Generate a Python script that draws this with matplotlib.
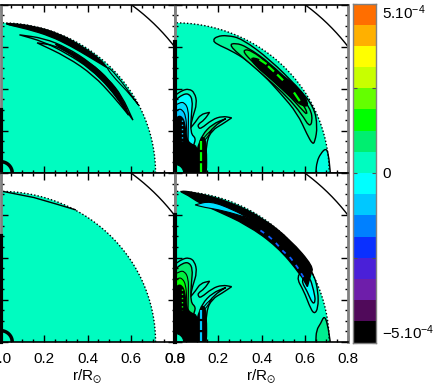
import numpy as np
import matplotlib
matplotlib.use('Agg')
import matplotlib.pyplot as plt
from matplotlib.path import Path
from matplotlib.patches import PathPatch

plt.rcParams['font.family'] = ['Liberation Sans', 'DejaVu Sans']
plt.rcParams['mathtext.default'] = 'regular'

# Colour levels of the bar, bottom to top
levels = [-5e-4 + i * 6.25e-5 for i in range(17)]
level_colors = ['#000000', '#500a5a', '#6e1eaa', '#4a20d8', '#0a30ff', '#0080ff',
                '#00c8ff', '#00ffff', '#00fcc0', '#00ee70', '#00ff00', '#64ff00',
                '#c8ff00', '#ffff00', '#ffb000', '#ff6e00']
bar_ticks = [-5e-4, -2.5e-4, 0, 2.5e-4, 5e-4]
bar_labels = [r'$-$5.10$^{-4}$', '', '0', '', '5.10$^{-4}$']

disc_color = '#00fcc0'
r_disc = 0.713
r_core = 0.054
r_surface = 1.0

tick_major = [0.0, 0.2, 0.4, 0.6, 0.8]
tick_labels = ['0.0', '0.2', '0.4', '0.6', '0.8']

# Top left panel
tl_band = [(.030, .712), (.153, .698), (.275, .660), (.382, .597), (.459, .540), (.490, .500), (.490, .500),
           (.413, .548), (.321, .604), (.229, .650), (.122, .684), (.030, .705)]
tl_sliver = [(.482, .512), (.528, .474), (.635, .322), (.635, .322), (.581, .390), (.512, .464)]
tl_top = [(.015, .712), (.055, .704), (.095, .698), (.095, .698), (.050, .700)]
tl_long = [(.087, .656), (.087, .656), (.199, .640), (.306, .595), (.413, .524), (.497, .445), (.558, .366),
           (.609, .251), (.609, .251), (.566, .314), (.505, .401), (.413, .496), (.306, .567), (.199, .623)]
tl_mass = [(.240, .618), (.275, .604), (.413, .524), (.505, .437), (.569, .335), (.589, .275), (.589, .275),
           (.535, .360), (.459, .455), (.352, .545)]
tl_lower = [(.168, .618), (.168, .618), (.245, .607), (.306, .575), (.459, .482), (.535, .370), (.589, .275),
            (.589, .275), (.520, .362), (.428, .464), (.306, .551)]

# Bottom left panel
bl_edge = [(.015, .712), (.153, .684), (.260, .652), (.344, .626)]

# Upper lobe, top right panel
tr_lobe1 = [(.174, .630), (.194, .649), (.240, .654), (.310, .638), (.442, .536), (.566, .409),
            (.643, .314), (.659, .220), (.647, .148), (.636, .137), (.612, .180), (.566, .283),
            (.488, .378), (.411, .464), (.333, .536), (.256, .583), (.194, .611)]
tr_lobe2 = [(.248, .607), (.279, .618), (.333, .599), (.442, .520), (.550, .409), (.628, .306),
            (.636, .243), (.620, .220), (.589, .275), (.519, .362), (.426, .449), (.333, .532)]
tr_lobe3 = [(.310, .583), (.349, .586), (.442, .512), (.550, .393), (.605, .306), (.612, .275),
            (.589, .299), (.519, .378), (.426, .464), (.349, .536)]
tr_band = [(.345, .555), (.426, .524), (.504, .457), (.574, .405), (.620, .327), (.597, .312),
           (.535, .360), (.442, .449), (.372, .508)]
tr_dashes = [(.395, .536), (.419, .520), (.434, .504), (.454, .485), (.476, .464), (.496, .444),
             (.553, .378), (.574, .346)]
tr_corner = [(.651, -.04), (.651, 0), (.656, .054), (.674, .093), (.698, .118), (.710, .090), (.718, 0),
             (.725, -.04)]

# Plumes near the axis, same shape in both right panels
plume_outer = [(-.03, .345), (.002, .370), (.033, .392), (.064, .400), (.091, .382), (.102, .330), (.082, .267),
               (.070, .212), (.070, .212), (.095, .242), (.118, .278), (.160, .288), (.160, .288), (.135, .251),
               (.107, .232), (.107, .218), (.118, .208), (.172, .254), (.219, .270), (.262, .262), (.262, .262),
               (.219, .232), (.172, .204), (.144, .148), (.141, 0), (.141, -.04), (-.03, -.04)]
plume_a = [(-.03, .325), (.002, .345), (.033, .372), (.064, .378), (.082, .346), (.076, .283), (.071, .188),
           (.098, .164), (.082, .125), (.072, -.04), (-.03, -.04)]
plume_a2 = [(-.03, .300), (.020, .335), (.045, .335), (.062, .300), (.062, .240), (.060, .150), (.060, -.04),
            (-.03, -.04)]
plume_b = [(-.03, .270), (.015, .305), (.035, .300), (.050, .270), (.054, .210), (.056, .125), (.056, -.04),
           (-.03, -.04)]
plume_black = [(-.03, .225), (.012, .270), (.032, .268), (.046, .235), (.050, .180), (.060, .150), (.078, .135),
               (.105, .125), (.120, -.04), (-.03, -.04)]
plume_right = [(.100, .110), (.118, .155), (.132, .175), (.146, .135), (.146, -.04), (.100, -.04)]
plume_c = [(.107, .125), (.125, .180), (.172, .232), (.235, .258), (.235, .258), (.180, .222), (.140, .165)]
plume_d = [(.118, .140), (.140, .178), (.172, .205), (.172, .205), (.140, .155)]
plume_strip = [(.122, .150), (.122, 0)]
plume_dots = [(.032, .250), (.032, .150)]

# Bottom right panel
br_band = [(.016, .716), (.085, .710), (.256, .664), (.411, .584), (.535, .482), (.640, .357),
           (.628, .320), (.612, .262), (.612, .262), (.581, .320), (.473, .452), (.333, .555), (.186, .624),
           (.110, .660), (.060, .695)]
br_sliver = [(.093, .649), (.093, .649), (.163, .668), (.271, .625), (.341, .586), (.341, .586), (.225, .622),
             (.132, .638)]
br_lens1 = [(.612, .357), (.643, .318), (.662, .239), (.662, .160), (.643, .130), (.620, .175),
            (.597, .239), (.558, .310)]
br_lens2 = [(.620, .318), (.643, .239), (.650, .191), (.636, .180), (.612, .239), (.581, .294)]
br_dashes = [(.395, .528), (.429, .504), (.462, .474), (.499, .431), (.535, .397), (.566, .354),
             (.597, .302)]
br_corner = [(.651, -.04), (.651, 0), (.654, .057), (.674, .088), (.690, .125), (.705, .088), (.718, 0),
             (.725, -.04)]

W, H = 436.0, 385.0


def make_axes(x0, x1, y_top, y_bot):
    return fig.add_axes([x0 / W, 1 - y_bot / H, (x1 - x0) / W, (y_bot - y_top) / H])


def shape(ax, pts, fill=None, lw=1.0, edge='black'):
    # Closed curve with the listed points as quadratic control points
    p = np.array(pts)
    mid = (p + np.roll(p, -1, axis=0)) / 2
    verts = [mid[-1]]
    codes = [Path.MOVETO]
    for i in range(len(p)):
        verts += [p[i], mid[i]]
        codes += [Path.CURVE3, Path.CURVE3]
    patch = PathPatch(Path(verts, codes), facecolor=fill if fill else 'none', edgecolor=edge, lw=lw)
    ax.add_patch(patch)


def dashes(ax, pts, color, lw=1.5):
    for i in range(0, len(pts) - 1, 2):
        ax.plot([pts[i][0], pts[i + 1][0]], [pts[i][1], pts[i + 1][1]], color=color, lw=lw)


def base_panel(ax, black_to, bottom_labels=False):
    theta = np.linspace(0, np.pi / 2, 200)
    ax.fill(np.r_[0, r_disc * np.cos(theta)], np.r_[0, r_disc * np.sin(theta)],
            facecolor=disc_color, edgecolor='none')
    ax.plot(r_surface * np.cos(theta), r_surface * np.sin(theta), color='black', lw=1)
    ax.plot([0, 0], [0, black_to], color='black', lw=3, zorder=5, clip_on=False)
    ax.set_xlim(0, 0.8)
    ax.set_ylim(0, 0.8)
    ax.set_xticks(tick_major)
    ax.set_yticks(tick_major)
    ax.set_xticks(np.arange(0, 0.801, 0.05), minor=True)
    ax.set_yticks(np.arange(0, 0.801, 0.05), minor=True)
    ax.tick_params(which='major', direction='in', length=5, width=1, top=True, right=True,
                   labelleft=False, labelbottom=bottom_labels, labelsize=11, pad=7)
    ax.tick_params(which='minor', direction='in', length=2.5, width=1, top=True, right=True)
    if bottom_labels:
        ax.set_xticklabels(tick_labels)
        ax.set_xlabel(r'r/R$_{\odot}$', fontsize=11, labelpad=1.5)
    for side in ['left', 'right']:
        ax.spines[side].set_color('#808080')
        ax.spines[side].set_linewidth(2)
    for side in ['top', 'bottom']:
        ax.spines[side].set_linewidth(1.2)


def disc_edge(ax):
    theta = np.linspace(0, np.pi / 2, 200)
    ax.plot(r_disc * np.cos(theta), r_disc * np.sin(theta), color='black', lw=1, ls=(0, (1, 1.5)))


def plumes(ax, lobe_a, lobe_a2, lobe_b, strip_color, right_fill):
    shape(ax, plume_outer, fill=disc_color)
    shape(ax, plume_a, fill=lobe_a)
    shape(ax, plume_a2, fill=lobe_a2, lw=0.8)
    shape(ax, plume_b, fill=lobe_b, lw=0.8)
    shape(ax, plume_black, fill='black')
    shape(ax, plume_c, fill=right_fill)
    shape(ax, plume_d, fill=right_fill, lw=0.8)
    shape(ax, plume_right, fill='black')
    ax.plot([p[0] for p in plume_strip], [p[1] for p in plume_strip], color=strip_color, lw=1.6,
            ls=(0, (4, 1)))
    ax.plot([p[0] for p in plume_dots], [p[1] for p in plume_dots], color=lobe_b, lw=1,
            ls=(0, (1, 2)))
    t = np.linspace(0, np.pi / 2, 30)
    ax.fill(np.r_[0, 0.04 * np.cos(t)], np.r_[0, 0.04 * np.sin(t)], facecolor=disc_color,
            edgecolor='black', lw=0.8)


fig = plt.figure(figsize=(W / 100, H / 100), dpi=100)

ax_tl = make_axes(0.5, 174.5, 4.5, 173)
ax_tr = make_axes(175, 348, 4.5, 173)
ax_bl = make_axes(0.5, 174.5, 173, 342)
ax_br = make_axes(175, 348, 173, 342)

# Top left
base_panel(ax_tl, 0.3)
shape(ax_tl, tl_top, fill=disc_color, lw=0.8)
shape(ax_tl, tl_band, fill='black')
shape(ax_tl, tl_sliver, lw=0.8)
shape(ax_tl, tl_long, lw=1.0)
shape(ax_tl, tl_lower, lw=1.0)
shape(ax_tl, tl_mass, fill='black')
t_core = np.linspace(0, np.pi / 2, 40)
ax_tl.plot(r_core * np.cos(t_core), r_core * np.sin(t_core), color='black', lw=2.5)
disc_edge(ax_tl)

# Top right
base_panel(ax_tr, 0.62)
shape(ax_tr, tr_corner, fill='#00ffe0')
shape(ax_tr, tr_lobe1, fill='#00f49a')
shape(ax_tr, tr_lobe2, fill='#00ee70')
shape(ax_tr, tr_lobe3, fill='#00f040')
shape(ax_tr, tr_band, fill='black')
dashes(ax_tr, tr_dashes, '#00ff00', lw=1.6)
plumes(ax_tr, '#00ffff', '#00e0ff', '#00c8ff', '#00ff00', '#00ee70')
disc_edge(ax_tr)

# Bottom left
base_panel(ax_bl, 0.5, bottom_labels=True)
ax_bl.plot([p[0] for p in bl_edge], [p[1] for p in bl_edge], color='black', lw=1)
ax_bl.plot(r_core * np.cos(t_core), r_core * np.sin(t_core), color='black', lw=2.5)
disc_edge(ax_bl)

# Bottom right
base_panel(ax_br, 0.6, bottom_labels=True)
shape(ax_br, br_corner, fill='#00ee90')
shape(ax_br, br_lens1, fill='#00ffd8')
shape(ax_br, br_lens2, fill='#00ffff')
shape(ax_br, br_band, fill='black')
shape(ax_br, br_sliver, fill='#00e0ff', lw=0.8)
ax_br.plot([p[0] for p in br_dashes], [p[1] for p in br_dashes], color='#1060ff', lw=1.3,
           ls=(0, (2.5, 3)))
plumes(ax_br, '#00ee70', '#00f040', '#00ff00', '#00c8ff', '#00ffe0')
disc_edge(ax_br)

# Colour bar
cax = make_axes(353, 375.5, 3.5, 342.5)
cax.pcolormesh([0, 1], levels, np.arange(16).reshape(-1, 1),
               cmap=matplotlib.colors.ListedColormap(level_colors), vmin=-0.5, vmax=15.5)
cax.set_xticks([])
cax.yaxis.tick_right()
cax.set_yticks(bar_ticks)
cax.set_yticklabels(bar_labels)
cax.tick_params(axis='y', direction='in', length=3, width=0.8, color='#505050', left=True,
                right=True, labelsize=11, pad=5)
labels = cax.get_yticklabels()
labels[0].set_va('bottom')
labels[-1].set_va('top')
for spine in cax.spines.values():
    spine.set_color('#808080')
    spine.set_linewidth(1)

fig.savefig('out.png', dpi=100)
